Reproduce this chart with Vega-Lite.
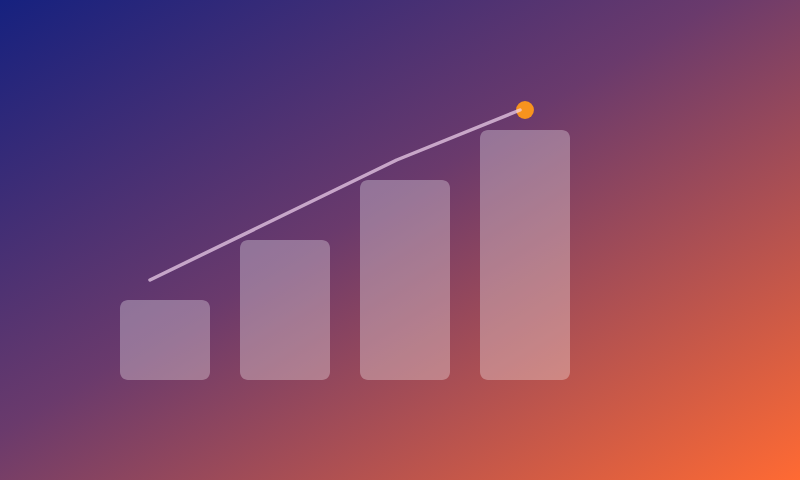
{
  "$schema": "https://vega.github.io/schema/vega-lite/v6.json",
  "width": 800,
  "height": 480,
  "padding": 0,
  "autosize": {"type": "fit", "contains": "padding"},
  "config": {
    "view": {
      "stroke": null,
      "fill": {
        "gradient": "linear",
        "x1": 0, "y1": 0, "x2": 1, "y2": 1,
        "stops": [
          {"offset": 0, "color": "#16217f"},
          {"offset": 0.45, "color": "#6a3a6c"},
          {"offset": 1, "color": "#ff6a33"}
        ]
      }
    },
    "axis": {"disable": true},
    "legend": {"disable": true}
  },
  "data": {
    "values": [
      {"period": "Q1", "value": 80, "trend": 100},
      {"period": "Q2", "value": 140, "trend": 160},
      {"period": "Q3", "value": 200, "trend": 220},
      {"period": "Q4", "value": 250, "trend": 270}
    ]
  },
  "layer": [
    {
      "layer": [
        {
          "mark": {"type": "bar", "color": "#ffffff", "opacity": 0.3, "cornerRadius": 8},
          "encoding": {
            "x": {"field": "period", "type": "nominal", "axis": null,
                  "scale": {"type": "band", "range": [120, 570], "paddingInner": 0.25, "paddingOuter": 0}},
            "y": {"field": "value", "type": "quantitative", "axis": null,
                  "scale": {"domain": [-100, 380], "nice": false, "zero": false}}
          }
        },
        {
          "transform": [{"filter": "datum.period == 'Q4'"}],
          "mark": {"type": "circle", "color": "#f7931e", "opacity": 1, "size": 320},
          "encoding": {
            "x": {"field": "period", "type": "nominal", "axis": null},
            "y": {"field": "trend", "type": "quantitative", "axis": null}
          }
        }
      ]
    },
    {
      "mark": {"type": "line", "color": "#f2d6f0", "opacity": 0.7, "strokeWidth": 3.5, "strokeCap": "round", "strokeJoin": "round"},
      "encoding": {
        "x": {"field": "period", "type": "nominal", "axis": null,
              "scale": {"type": "point", "range": [150, 520], "padding": 0}},
        "y": {"field": "trend", "type": "quantitative", "axis": null,
              "scale": {"domain": [-100, 380], "nice": false, "zero": false}}
      }
    }
  ],
  "resolve": {"scale": {"x": "independent"}}
}
